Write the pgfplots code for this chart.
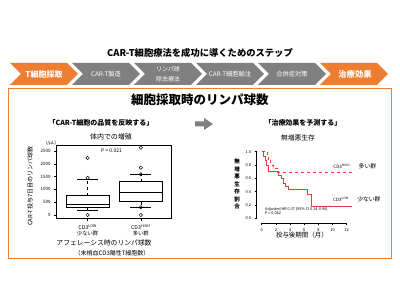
\documentclass[border=0pt]{standalone}
\usepackage{pgfplots}
\pgfplotsset{compat=1.18}
\usepackage{fontspec}
\setmainfont{Noto Sans CJK JP}
\definecolor{orng}{RGB}{237,125,49}
\definecolor{gry}{RGB}{128,128,128}
\definecolor{kmred}{RGB}{232,58,58}
\newcommand{\fs}[1]{\fontsize{#1}{#1}\selectfont}
\begin{document}
\begin{tikzpicture}
\path (0,0) rectangle (400pt,300pt);
% main title
\node[font=\fs{9.3}\bfseries] at (200pt,247pt) {CAR-T細胞療法を成功に導くためのステップ};
% chevrons
\foreach \xl/\cc in {10/orng,72/gry,134/gry,196/gry,258/gry,320/orng} {
  \fill[\cc] (\xl pt,237pt) -- ++(57pt,0) -- ++(11pt,-11pt) -- ++(-11pt,-11pt) -- ++(-57pt,0) -- ++(11pt,11pt) -- cycle;
}
\node[white,font=\fs{8}\bfseries] at (44pt,226pt) {T細胞採取};
\node[white,font=\fs{6.3}] at (106pt,226pt) {CAR-T製造};
\node[white,font=\fontsize{6}{10.5}\selectfont,align=center] at (168pt,226pt) {リンパ球\\除去療法};
\node[white,font=\fs{6.3}] at (230pt,226pt) {CAR-T細胞輸注};
\node[white,font=\fs{6.3}] at (292pt,226pt) {合併症対策};
\node[white,font=\fs{8.3}\bfseries] at (355pt,226pt) {治療効果};
% frame
\draw[orng,line width=0.8pt] (8pt,42pt) rectangle (391pt,212pt);
\node[font=\fs{12.5}\bfseries] at (200pt,200pt) {細胞採取時のリンパ球数};
\node[font=\fs{7}\bfseries] at (101pt,177pt) {「CAR-T細胞の品質を反映する」};
\node[font=\fs{7}\bfseries] at (303pt,177pt) {「治療効果を予測する」};
\fill[gry] (195pt,173.5pt) -- (204pt,173.5pt) -- (204pt,170pt) -- (213pt,176pt) -- (204pt,182pt) -- (204pt,178.5pt) -- (195pt,178.5pt) -- cycle;
% ---------------- box plot ----------------
\node[font=\fs{7}] at (111pt,163pt) {体内での増殖};
\node[font=\fs{4.5}] at (51pt,157pt) {(/μL)};
\node[font=\fs{6},rotate=90] at (30pt,114pt) {CAR-T投与7日目のリンパ球数};
\node[font=\fs{6.8}] at (104pt,57pt) {アフェレーシス時のリンパ球数};
\node[font=\fs{6}] at (112pt,47pt) {（末梢血CD3陽性T細胞数）};
\begin{axis}[
  at={(56.7pt,81.7pt)}, anchor=south west, scale only axis,
  width=115pt, height=73.3pt,
  xmin=0.42, xmax=2.58, ymin=-129, ymax=2734,
  axis line style={black, line width=0.5pt},
  xtick={1,2}, xticklabels={{CD3\textsuperscript{LOW}\\少ない群},{CD3\textsuperscript{HIGH}\\多い群}},
  xticklabel style={align=center, font=\fontsize{5.3}{6}\selectfont},
  ytick={0,500,1000,1500,2000,2500},
  yticklabel style={font=\fs{4.5}, /pgf/number format/1000 sep={}},
  /pgf/number format/assume math mode=true,
  tick align=outside, major tick length=2.5pt,
  tick style={black, line width=0.4pt},
  xtick pos=bottom, ytick pos=left,
]
% boxes (Q1, Q3)
\addplot[black, line width=0.5pt, fill=white, mark=none] coordinates {(0.6,300) (1.4,300) (1.4,753) (0.6,753) (0.6,300)};
\addplot[black, line width=0.5pt, fill=white, mark=none] coordinates {(1.6,520) (2.4,520) (2.4,1300) (1.6,1300) (1.6,520)};
% medians
\addplot[black, line width=1.5pt, mark=none] coordinates {(0.6,416) (1.4,416)};
\addplot[black, line width=1.5pt, mark=none] coordinates {(1.6,871) (2.4,871)};
% whiskers
\addplot[black, line width=0.5pt, dashed, mark=none] coordinates {(1,753) (1,1390)};
\addplot[black, line width=0.5pt, dashed, mark=none] coordinates {(1,300) (1,170)};
\addplot[black, line width=0.5pt, dashed, mark=none] coordinates {(2,1300) (2,1586)};
\addplot[black, line width=0.5pt, dashed, mark=none] coordinates {(2,520) (2,320)};
\addplot[black, line width=0.5pt, mark=none] coordinates {(0.8,1390) (1.2,1390)};
\addplot[black, line width=0.5pt, mark=none] coordinates {(0.8,170) (1.2,170)};
\addplot[black, line width=0.5pt, mark=none] coordinates {(1.8,1586) (2.2,1586)};
\addplot[black, line width=0.5pt, mark=none] coordinates {(1.8,320) (2.2,320)};
% outliers
\addplot[only marks, black, mark=o, mark size=1.7pt, mark options={solid, line width=0.5pt}] coordinates {
  (1,0) (1,1450) (1,2230) (2,0) (2,300) (2,1590) (2,1850) (2,2630)};
\node[font=\fs{5}] at (axis cs:1.45,2500) {P = 0.021};
\end{axis}
% ---------------- KM plot ----------------
\node[font=\fs{6.8}] at (298pt,162pt) {無増悪生存};
\node[font=\fontsize{5.5}{7.5}\selectfont\bfseries,align=center] at (237pt,116pt) {無\\増\\悪\\生\\存\\割\\合};
\node[font=\fs{6.5}] at (302pt,65pt) {投与後期間（月）};
\begin{axis}[
  at={(261.7pt,81.7pt)}, anchor=south west, scale only axis,
  width=85pt, height=66.6pt,
  xmin=0, xmax=12, ymin=0, ymax=1, clip=false,
  axis x line*=bottom, axis y line*=left,
  axis x line shift=5pt, axis y line shift=5pt,
  axis line style={-, black, line width=0.4pt},
  xtick={0,2,4,6,8,10,12}, ytick={0,0.2,0.4,0.6,0.8,1},
  xticklabel style={font=\fs{4}},
  yticklabel style={font=\fs{4}, /pgf/number format/.cd, fixed, fixed zerofill, precision=1},
  /pgf/number format/assume math mode=true,
  tick align=outside, major tick length=2pt,
  tick style={black, line width=0.4pt},
]
\addplot[kmred, line width=1pt, const plot, mark=none] coordinates {
  (0,1) (0.25,0.93) (0.5,0.87) (0.7,0.8) (0.9,0.7) (2.4,0.65) (2.8,0.6) (3.1,0.52)
  (3.4,0.48) (3.8,0.43) (6.5,0.35) (7.0,0.17) (12.8,0.17)};
\addplot[kmred, line width=1pt, dashed, const plot, mark=none] coordinates {
  (0,1) (0.8,0.93) (1.0,0.87) (1.3,0.8) (1.6,0.75) (2.3,0.69) (12.8,0.69)};
\node[font=\fs{4.5}] at (axis cs:11.3,0.78) {CD3\textsuperscript{HIGH}};
\node[font=\fs{5.8}, anchor=west] at (axis cs:13.2,0.78) {多い群};
\node[font=\fs{4.5}] at (axis cs:11.2,0.28) {CD3\textsuperscript{LOW}};
\node[font=\fs{5.8}, anchor=west] at (axis cs:13.0,0.28) {少ない群};
\node[font=\fs{3.8}, anchor=west, align=left] at (axis cs:0,0.115) {Adjusted HR 0.37 (95\% CI 0.14-0.96)\\P = 0.042};
\end{axis}
\end{tikzpicture}
\end{document}
